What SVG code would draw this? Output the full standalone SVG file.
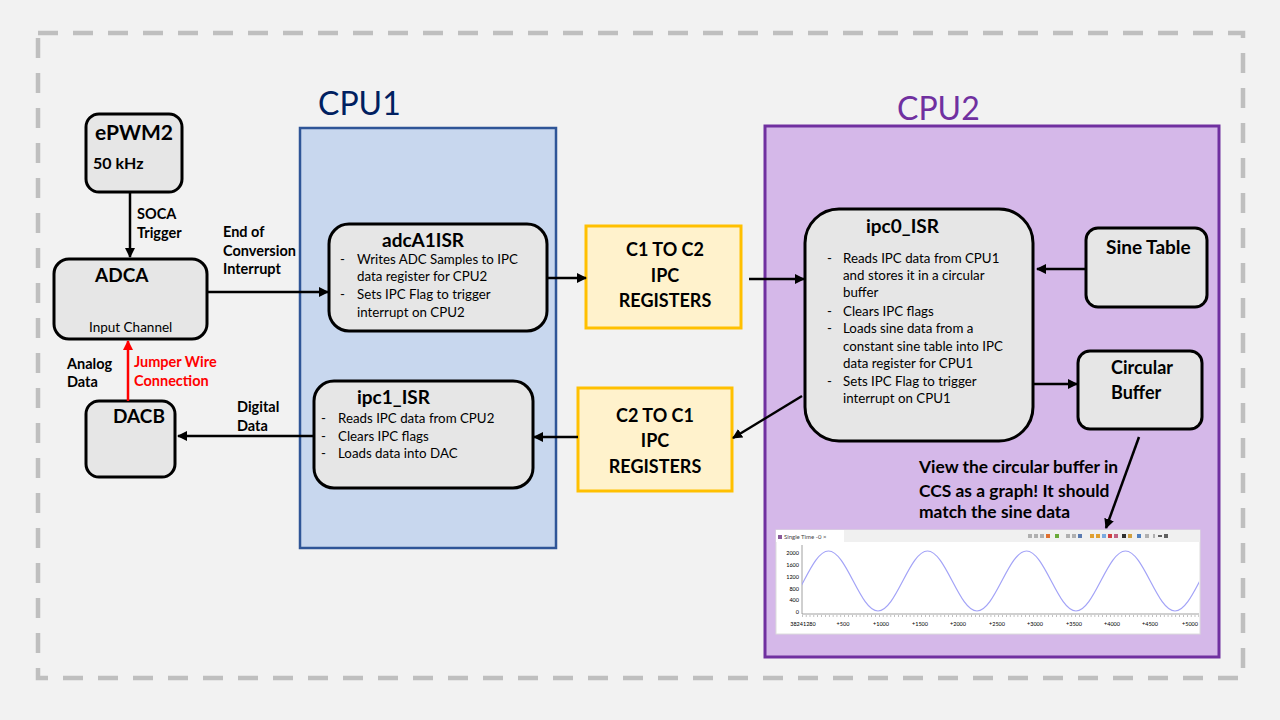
<svg xmlns="http://www.w3.org/2000/svg" width="1280" height="720" viewBox="0 0 1280 720">
<style>
text{font-family:Lato,"Liberation Sans",sans-serif;fill:#000}
.b{font-weight:bold}
.node{fill:#e6e6e6;stroke:#000;stroke-width:3}
.reg{fill:#fff2cc;stroke:#ffc000;stroke-width:3}
.t20{font-size:19px;font-weight:bold}
.t18{font-size:18px;font-weight:bold}
.lbl{font-size:14.5px;font-weight:bold}
.body{font-size:13.3px}
.conn{stroke:#000;stroke-width:2.5;fill:none;marker-end:url(#ah)}
.tiny{font-size:6px;fill:#444}
</style>
<defs>
<marker id="ah" viewBox="0 0 10 10" refX="9" refY="5" markerWidth="10" markerHeight="10" markerUnits="userSpaceOnUse" orient="auto"><path d="M0,0 L10,5 L0,10 z" fill="#000"/></marker>
<marker id="ahr" viewBox="0 0 10 10" refX="9" refY="5" markerWidth="10" markerHeight="10" markerUnits="userSpaceOnUse" orient="auto"><path d="M0,0 L10,5 L0,10 z" fill="#ff0000"/></marker>
<clipPath id="plot"><rect x="802" y="542" width="397" height="72"/></clipPath>
</defs>
<rect x="0" y="0" width="1280" height="720" fill="#f2f2f2"/>
<rect x="38" y="33" width="1205" height="645" fill="none" stroke="#bfbfbf" stroke-width="4.5" stroke-dasharray="20 15"/>

<g id="cpu1">
<rect x="300" y="128" width="256" height="420" fill="#c8d7ee" stroke="#2f5597" stroke-width="2.5"/>
<text x="318" y="115" style="font-size:32px;fill:#002060">CPU1</text>
</g>
<g id="cpu2">
<rect x="765" y="126" width="454" height="531" fill="#d5b8e9" stroke="#7030a0" stroke-width="3"/>
<text x="897" y="120" style="font-size:32px;fill:#7030a0">CPU2</text>
</g>

<g id="epwm2">
<rect class="node" x="86" y="114" width="96" height="78" rx="13"/>
<text class="b" x="95" y="140" style="font-size:21px">ePWM2</text>
<text class="b" x="93" y="169" style="font-size:16px">50 kHz</text>
</g>
<g id="adca">
<rect class="node" x="54" y="259" width="153" height="80" rx="15"/>
<text class="t20" x="95" y="282">ADCA</text>
<text x="89" y="332" style="font-size:13.5px">Input Channel</text>
</g>
<g id="dacb">
<rect class="node" x="86" y="401" width="89" height="76" rx="13"/>
<text class="t20" x="113" y="423">DACB</text>
</g>
<g id="adcA1ISR">
<rect class="node" x="329" y="224" width="218" height="107" rx="20"/>
<text class="t20" x="382" y="247">adcA1ISR</text>
<text class="body" x="340" y="264">-</text><text class="body" x="357" y="264">Writes ADC Samples to IPC</text>
<text class="body" x="357" y="281">data register for CPU2</text>
<text class="body" x="340" y="299">-</text><text class="body" x="357" y="299">Sets IPC Flag to trigger</text>
<text class="body" x="357" y="317">interrupt on CPU2</text>
</g>
<g id="ipc1_ISR">
<rect class="node" x="314" y="381" width="219" height="107" rx="20"/>
<text class="t20" x="357" y="404">ipc1_ISR</text>
<text class="body" x="321" y="423">-</text><text class="body" x="338" y="423">Reads IPC data from CPU2</text>
<text class="body" x="321" y="441">-</text><text class="body" x="338" y="441">Clears IPC flags</text>
<text class="body" x="321" y="458">-</text><text class="body" x="338" y="458">Loads data into DAC</text>
</g>
<g id="c1toc2">
<rect class="reg" x="586" y="226" width="155" height="102"/>
<text class="t18" x="665" y="256" text-anchor="middle">C1 TO C2</text>
<text class="t18" x="665" y="282" text-anchor="middle">IPC</text>
<text class="t18" x="665" y="307" text-anchor="middle">REGISTERS</text>
</g>
<g id="c2toc1">
<rect class="reg" x="578" y="388" width="154" height="103"/>
<text class="t18" x="655" y="422" text-anchor="middle">C2 TO C1</text>
<text class="t18" x="655" y="447" text-anchor="middle">IPC</text>
<text class="t18" x="655" y="473" text-anchor="middle">REGISTERS</text>
</g>
<g id="ipc0_ISR">
<rect class="node" x="805" y="209" width="228" height="232" rx="34"/>
<text class="t20" x="866" y="233">ipc0_ISR</text>
<text class="body" x="827" y="263">-</text><text class="body" x="843" y="263">Reads IPC data from CPU1</text>
<text class="body" x="843" y="280">and stores it in a circular</text>
<text class="body" x="843" y="297">buffer</text>
<text class="body" x="827" y="316">-</text><text class="body" x="843" y="316">Clears IPC flags</text>
<text class="body" x="827" y="333">-</text><text class="body" x="843" y="333">Loads sine data from a</text>
<text class="body" x="843" y="351">constant sine table into IPC</text>
<text class="body" x="843" y="368">data register for CPU1</text>
<text class="body" x="827" y="386">-</text><text class="body" x="843" y="386">Sets IPC Flag to trigger</text>
<text class="body" x="843" y="403">interrupt on CPU1</text>
</g>
<g id="sine_table">
<rect class="node" x="1086" y="228" width="121" height="79" rx="12"/>
<text class="b" x="1106" y="254" style="font-size:19px">Sine Table</text>
</g>
<g id="circular_buffer">
<rect class="node" x="1078" y="351" width="124" height="78" rx="12"/>
<text class="t18" x="1111" y="374">Circular</text>
<text class="t18" x="1111" y="399">Buffer</text>
</g>
<g id="note">
<text class="b" x="919" y="473" style="font-size:17.4px">View the circular buffer in</text>
<text class="b" x="919" y="497" style="font-size:17.4px">CCS as a graph! It should</text>
<text class="b" x="919" y="518" style="font-size:17.4px">match the sine data</text>
</g>

<g id="graph">
<rect x="776" y="530" width="424" height="104" fill="#ffffff" stroke="#dcdcdc" stroke-width="1"/>
<rect x="776" y="530" width="424" height="12" fill="#f0f0f0"/>
<rect x="776" y="530" width="68" height="12" fill="#ffffff"/>
<rect x="778" y="535" width="4" height="4" fill="#8a5a9a"/>
<text class="tiny" x="784" y="539">Single Time -0 ×</text>
<g fill="#b0b0b0">
<rect x="1028" y="534" width="4" height="4"/><rect x="1034" y="534" width="4" height="4"/><rect x="1040" y="534" width="4" height="4"/>
<rect x="1046" y="534" width="4" height="4" fill="#e07030"/><rect x="1055" y="534" width="4" height="4" fill="#6aaa3a"/>
<rect x="1066" y="534" width="4" height="4"/><rect x="1072" y="534" width="4" height="4"/><rect x="1078" y="534" width="4" height="4" fill="#5a7ab0"/>
<rect x="1090" y="534" width="4" height="4" fill="#e0a030"/><rect x="1096" y="534" width="4" height="4" fill="#e0a030"/><rect x="1102" y="534" width="4" height="4" fill="#7aaae0"/>
<rect x="1108" y="534" width="4" height="4" fill="#d04040"/><rect x="1114" y="534" width="4" height="4" fill="#c06080"/>
<rect x="1122" y="534" width="4" height="4" fill="#303030"/><rect x="1128" y="534" width="4" height="4" fill="#d0a040"/>
<rect x="1137" y="534" width="4" height="4" fill="#5080c0"/><rect x="1145" y="534" width="4" height="4"/><rect x="1153" y="534" width="2" height="4"/>
<rect x="1158" y="535" width="4" height="2" fill="#606060"/><rect x="1164" y="534" width="4" height="4" fill="#606060"/>
</g>
<line x1="802" y1="545" x2="802" y2="614" stroke="#888" stroke-width="0.8"/>
<line x1="802" y1="614" x2="1199" y2="614" stroke="#888" stroke-width="0.8"/>
<path d="M802 616 H1199" stroke="#999" stroke-width="2" stroke-dasharray="0.6 3.25" fill="none"/>
<g class="tiny" text-anchor="end" style="font-size:5.5px">
<text x="799" y="555">2000</text><text x="799" y="567">1600</text><text x="799" y="579">1200</text>
<text x="799" y="591">800</text><text x="799" y="602">400</text><text x="799" y="614">0</text>
</g>
<g class="tiny" text-anchor="middle" style="font-size:5.5px">
<text x="803" y="626">38241280</text><text x="843" y="626">+500</text><text x="881" y="626">+1000</text>
<text x="920" y="626">+1500</text><text x="958" y="626">+2000</text><text x="997" y="626">+2500</text>
<text x="1035" y="626">+3000</text><text x="1074" y="626">+3500</text><text x="1112" y="626">+4000</text>
<text x="1150" y="626">+4500</text><text x="1190" y="626">+5000</text>
</g>
<path clip-path="url(#plot)" fill="none" stroke="#a3a3f7" stroke-width="1.2" d="M779 611 C797 611 810.5 551 828.5 551 S860 611 878 611 S909.5 551 927.5 551 S959 611 977 611 S1008.5 551 1026.5 551 S1058 611 1076 611 S1107.5 551 1125.5 551 S1157 611 1175 611 S1206.5 551 1224.5 551"/>
</g>

<g id="connectors">
<line class="conn" x1="130" y1="192" x2="130" y2="257"/>
<line class="conn" x1="207" y1="292" x2="328" y2="292"/>
<line x1="128" y1="401" x2="128" y2="341" stroke="#ff0000" stroke-width="2.5" marker-end="url(#ahr)"/>
<line class="conn" x1="315" y1="436" x2="178" y2="436"/>
<line class="conn" x1="547" y1="278" x2="586" y2="278"/>
<line class="conn" x1="749" y1="279" x2="804" y2="279"/>
<line class="conn" x1="578" y1="437" x2="534" y2="437"/>
<line class="conn" x1="802" y1="396" x2="733" y2="438"/>
<line class="conn" x1="1086" y1="269" x2="1037" y2="269"/>
<line class="conn" x1="1033" y1="384" x2="1077" y2="384"/>
<line class="conn" x1="1139" y1="437" x2="1106" y2="528"/>
<g class="lbl">
<text class="lbl" x="137" y="219">SOCA</text>
<text class="lbl" x="137" y="238">Trigger</text>
<text class="lbl" x="223" y="237">End of</text>
<text class="lbl" x="223" y="256">Conversion</text>
<text class="lbl" x="223" y="274">Interrupt</text>
<text class="lbl" x="67" y="369">Analog</text>
<text class="lbl" x="67" y="387">Data</text>
<text class="lbl" x="134" y="367" style="fill:#ff0000">Jumper Wire</text>
<text class="lbl" x="134" y="386" style="fill:#ff0000">Connection</text>
<text class="lbl" x="237" y="412">Digital</text>
<text class="lbl" x="237" y="431">Data</text>
</g>
</g>
</svg>
